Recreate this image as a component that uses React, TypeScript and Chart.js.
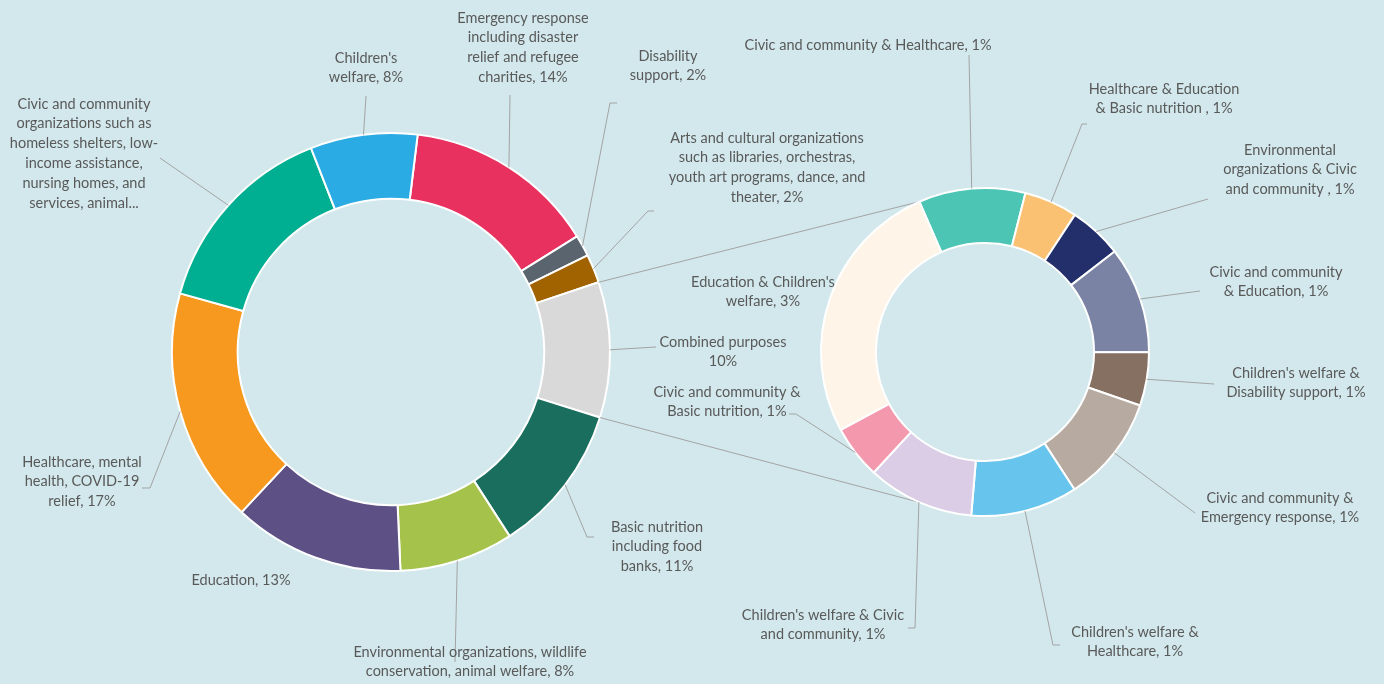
import React, { useEffect, useRef } from "react";
import { Chart, registerables } from "chart.js";

Chart.register(...registerables);

// ---------- DATA ----------
// Main doughnut (counts out of 190 respondents), clockwise from the first slice
const mainCategories = [
  "Emergency response including disaster relief and refugee charities",
  "Disability support",
  "Arts and cultural organizations",
  "Combined purposes",
  "Basic nutrition including food banks",
  "Environmental organizations, wildlife conservation, animal welfare",
  "Education",
  "Healthcare, mental health, COVID-19 relief",
  "Civic and community organizations",
  "Children's welfare",
];
const mainCounts = [27, 3, 4, 19, 21, 16, 24, 33, 28, 15];
const mainLabelLines = [
  ["Emergency response", "including disaster", "relief and refugee", "charities, 14%"],
  ["Disability", "support, 2%"],
  ["Arts and cultural organizations", "such as libraries, orchestras,", "youth art programs, dance, and", "theater, 2%"],
  ["Combined purposes", "10%"],
  ["Basic nutrition", "including food", "banks, 11%"],
  ["Environmental organizations, wildlife", "conservation, animal welfare, 8%"],
  ["Education, 13%"],
  ["Healthcare, mental", "health, COVID-19", "relief, 17%"],
  ["Civic and community", "organizations such as", "homeless shelters, low-", "income assistance,", "nursing homes, and", "services, animal..."],
  ["Children's", "welfare, 8%"],
];

// Secondary doughnut: breakdown of "Combined purposes"
const comboCategories = [
  "Civic and community & Healthcare",
  "Healthcare & Education & Basic nutrition",
  "Environmental organizations & Civic and community",
  "Civic and community & Education",
  "Children's welfare & Disability support",
  "Civic and community & Emergency response",
  "Children's welfare & Healthcare",
  "Children's welfare & Civic and community",
  "Civic and community & Basic nutrition",
  "Education & Children's welfare",
];
const comboCounts = [2, 1, 1, 2, 1, 2, 2, 2, 1, 5];
const comboLabelLines = [
  ["Civic and community & Healthcare, 1%"],
  ["Healthcare & Education", "& Basic nutrition , 1%"],
  ["Environmental", "organizations & Civic", "and community , 1%"],
  ["Civic and community", "& Education, 1%"],
  ["Children's welfare &", "Disability support, 1%"],
  ["Civic and community &", "Emergency response, 1%"],
  ["Children's welfare &", "Healthcare, 1%"],
  ["Children's welfare & Civic", "and community, 1%"],
  ["Civic and community &", "Basic nutrition, 1%"],
  ["Education & Children's", "welfare, 3%"],
];

// ---------- STYLE / LAYOUT ----------
const mainColors = ["#E8315F", "#5A646E", "#A16200", "#D9D9D9", "#1A6E5E", "#A5C24A", "#5D5085", "#F7991E", "#00AE91", "#2AABE3"];
const comboColors = ["#4DC5B4", "#FBC172", "#222F6A", "#7A83A4", "#857062", "#B7AAA1", "#67C4EC", "#DCCDE6", "#F498AE", "#FEF4E7"];

// label anchor: centre x, first line y, leader polyline end points
const mainLabelLayout = [
  { x: 523, y: 18, leader: [[510, 95]] },
  { x: 668, y: 56, leader: [[610, 103], [617, 103]] },
  { x: 767, y: 138, leader: [[648, 211], [654, 211]] },
  { x: 723, y: 342, leader: [[656, 347]] },
  { x: 657, y: 527, leader: [[587, 537], [594, 537]] },
  { x: 470, y: 652, leader: [[455, 662]] },
  { x: 241, y: 580, leader: [] },
  { x: 82, y: 462, leader: [[150, 488], [142, 488]] },
  { x: 84, y: 104, leader: [[160, 158]] },
  { x: 366, y: 58, leader: [[366, 96]] },
];
const comboLabelLayout = [
  { x: 868, y: 45, leader: [[969, 55]] },
  { x: 1164, y: 89, leader: [[1082, 124], [1087, 124]] },
  { x: 1290, y: 150, leader: [[1208, 199]] },
  { x: 1276, y: 272, leader: [[1200, 291]] },
  { x: 1296, y: 373, leader: [[1214, 384]] },
  { x: 1280, y: 498, leader: [[1195, 513]] },
  { x: 1135, y: 632, leader: [[1053, 645], [1060, 645]] },
  { x: 823, y: 615, leader: [[915, 628], [908, 628]] },
  { x: 727, y: 392, leader: [[796, 414], [789, 414]] },
  { x: 763, y: 282, leader: [] },
];

const W = 1384;
const H = 684;
const BG = "#D2E8EC";
const TEXT = "#595959";
const LEADER = "#A3A3A3";
const FONT = "14.5px Lato, 'Open Sans', sans-serif";
const LINE_H = 19.8;
const CONNECT_ANGLE = (113.6 * Math.PI) / 180; // where connectors meet the secondary doughnut

function arcGeom(chart: any, i: number) {
  const a = chart.getDatasetMeta(0).data[i];
  return a.getProps(["x", "y", "startAngle", "endAngle", "outerRadius"], true);
}

function makeLabelPlugin(lines: string[][], layout: any[]) {
  return {
    id: "labels",
    afterDatasetsDraw(chart: any) {
      const ctx = chart.ctx;
      ctx.save();
      ctx.strokeStyle = LEADER;
      ctx.lineWidth = 1;
      layout.forEach((lay, i) => {
        if (!lay.leader.length) return;
        const g = arcGeom(chart, i);
        const mid = (g.startAngle + g.endAngle) / 2;
        const sx = g.x + Math.cos(mid) * g.outerRadius;
        const sy = g.y + Math.sin(mid) * g.outerRadius;
        ctx.beginPath();
        ctx.moveTo(sx, sy);
        lay.leader.forEach((p: number[]) => ctx.lineTo(p[0], p[1]));
        ctx.stroke();
      });
      ctx.fillStyle = TEXT;
      ctx.font = FONT;
      ctx.textAlign = "center";
      ctx.textBaseline = "middle";
      layout.forEach((lay, i) => {
        lines[i].forEach((t, j) => ctx.fillText(t, lay.x, lay.y + j * LINE_H));
      });
      ctx.restore();
    },
  };
}

export default function App() {
  const mainRef = useRef<HTMLCanvasElement>(null);
  const comboRef = useRef<HTMLCanvasElement>(null);

  useEffect(() => {
    if (!mainRef.current || !comboRef.current) return;
    const combinedIndex = mainCategories.indexOf("Combined purposes");

    const mainChart = new Chart(mainRef.current, {
      type: "doughnut",
      data: {
        labels: mainCategories,
        datasets: [
          {
            data: mainCounts,
            backgroundColor: mainColors,
            borderColor: "#FFFFFF",
            borderWidth: 2,
          },
        ],
      },
      options: {
        responsive: false,
        animation: false,
        devicePixelRatio: 1,
        events: [],
        rotation: 7,
        cutout: "70%",
        radius: 219,
        layout: { padding: { left: 171, right: W - 611, top: 132, bottom: H - 572 } },
        plugins: { legend: { display: false }, tooltip: { enabled: false } },
      } as any,
      plugins: [makeLabelPlugin(mainLabelLines, mainLabelLayout)],
    });

    const connectorPlugin = {
      id: "connectors",
      beforeDatasetsDraw(chart: any) {
        const ctx = chart.ctx;
        const g = arcGeom(mainChart, combinedIndex);
        const meta = chart.getDatasetMeta(0).data[0];
        const r = meta.getProps(["x", "y", "outerRadius"], true);
        const p1 = [g.x + Math.cos(g.startAngle) * g.outerRadius, g.y + Math.sin(g.startAngle) * g.outerRadius];
        const p2 = [g.x + Math.cos(g.endAngle) * g.outerRadius, g.y + Math.sin(g.endAngle) * g.outerRadius];
        const q1 = [r.x + Math.cos(-CONNECT_ANGLE) * r.outerRadius, r.y + Math.sin(-CONNECT_ANGLE) * r.outerRadius];
        const q2 = [r.x + Math.cos(CONNECT_ANGLE) * r.outerRadius, r.y + Math.sin(CONNECT_ANGLE) * r.outerRadius];
        ctx.save();
        ctx.strokeStyle = LEADER;
        ctx.lineWidth = 1;
        ctx.beginPath();
        ctx.moveTo(p1[0], p1[1]);
        ctx.lineTo(q1[0], q1[1]);
        ctx.moveTo(p2[0], p2[1]);
        ctx.lineTo(q2[0], q2[1]);
        ctx.stroke();
        ctx.restore();
      },
    };

    const comboChart = new Chart(comboRef.current, {
      type: "doughnut",
      data: {
        labels: comboCategories,
        datasets: [
          {
            data: comboCounts,
            backgroundColor: comboColors,
            borderColor: "#FFFFFF",
            borderWidth: 2,
          },
        ],
      },
      options: {
        responsive: false,
        animation: false,
        devicePixelRatio: 1,
        events: [],
        rotation: -23.6,
        cutout: "66.5%",
        radius: 164,
        layout: { padding: { left: 820, right: W - 1150, top: 187, bottom: H - 517 } },
        plugins: { legend: { display: false }, tooltip: { enabled: false } },
      } as any,
      plugins: [connectorPlugin, makeLabelPlugin(comboLabelLines, comboLabelLayout)],
    });

    return () => {
      comboChart.destroy();
      mainChart.destroy();
    };
  }, []);

  const canvasStyle: React.CSSProperties = { position: "absolute", left: 0, top: 0, width: W, height: H };
  return (
    <div style={{ position: "fixed", left: 0, top: 0, width: W, height: H, background: BG, overflow: "hidden" }}>
      <canvas ref={mainRef} width={W} height={H} style={canvasStyle} />
      <canvas ref={comboRef} width={W} height={H} style={canvasStyle} />
    </div>
  );
}
